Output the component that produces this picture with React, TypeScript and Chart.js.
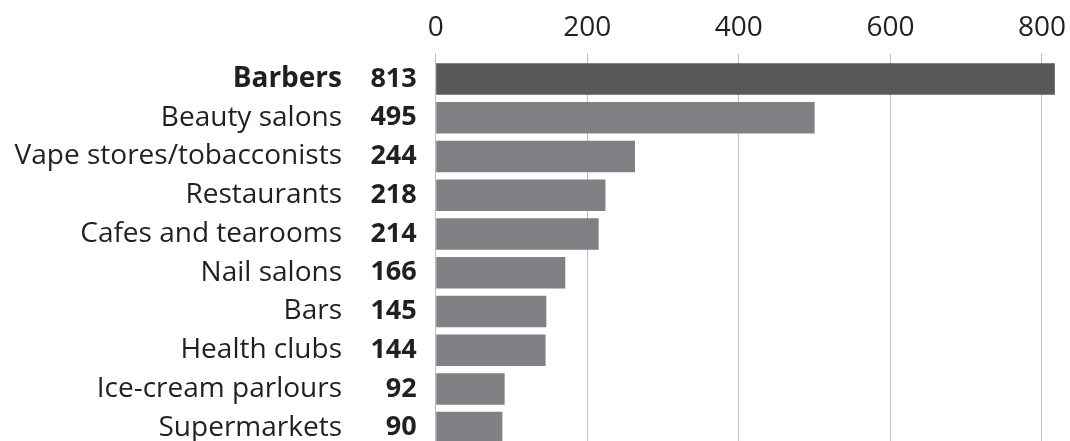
import React, { useEffect, useRef } from "react";
import { Chart, registerables } from "chart.js";

Chart.register(...registerables);

const categories = [
  "Barbers",
  "Beauty salons",
  "Vape stores/tobacconists",
  "Restaurants",
  "Cafes and tearooms",
  "Nail salons",
  "Bars",
  "Health clubs",
  "Ice-cream parlours",
  "Supermarkets",
];
const printedCounts = [813, 495, 244, 218, 214, 166, 145, 144, 92, 90];
const barLengths = [817, 500, 263, 224, 215, 171, 146, 145, 91, 88];
const xTicks = [0, 200, 400, 600, 800];

const FONT = "'Open Sans', 'Noto Sans', sans-serif";
const TEXT = "#231f20";
const DARK = "#58595b";
const GREY = "#808184";
const GRID = "#bcbec0";

const zeroPad = (s: any) => {
  s.paddingTop = 0;
  s.paddingBottom = 0;
  s.paddingLeft = 0;
  s.paddingRight = 0;
};

export default function App() {
  const ref = useRef<HTMLCanvasElement | null>(null);
  useEffect(() => {
    document.body.style.margin = "0";
    document.documentElement.style.overflow = "hidden";
    if (!ref.current) return;
    const countsPlugin = {
      id: "counts",
      afterDatasetsDraw(chart: any) {
        const { ctx, chartArea, scales } = chart;
        ctx.save();
        ctx.font = `bold 27px ${FONT}`;
        ctx.fillStyle = TEXT;
        ctx.textAlign = "right";
        ctx.textBaseline = "middle";
        printedCounts.forEach((v, i) => {
          ctx.fillText(String(v), chartArea.left - 19, scales.y.getPixelForValue(i));
        });
        ctx.restore();
      },
    };
    const chart = new Chart(ref.current, {
      type: "bar",
      data: {
        labels: categories,
        datasets: [
          {
            data: barLengths,
            backgroundColor: categories.map((_, i) => (i === 0 ? DARK : GREY)),
            borderWidth: 0,
            barPercentage: 0.814,
            categoryPercentage: 1,
          },
        ],
      },
      options: {
        indexAxis: "y",
        animation: false,
        responsive: false,
        maintainAspectRatio: false,
        layout: { padding: 0 },
        plugins: { legend: { display: false }, tooltip: { enabled: false } },
        scales: {
          x: {
            position: "top",
            min: 0,
            max: 837,
            afterBuildTicks: (s: any) => {
              s.ticks = xTicks.map((v) => ({ value: v }));
            },
            afterFit: (s: any) => {
              s.height = 59.65;
              zeroPad(s);
            },
            grid: { color: GRID, lineWidth: 1, tickLength: 6, drawTicks: true },
            border: { display: false },
            ticks: {
              padding: 9,
              color: TEXT,
              font: { family: FONT, size: 28 },
            },
          },
          y: {
            grid: { display: false, drawTicks: false },
            border: { display: false },
            afterFit: (s: any) => {
              s.width = 435.7;
              zeroPad(s);
            },
            ticks: {
              padding: 93.7,
              color: TEXT,
              font: (c: any) => ({
                family: FONT,
                size: 28,
                weight: c.index === 0 ? "bold" : "normal",
              }),
            },
          },
        },
      },
      plugins: [countsPlugin],
    });
    return () => chart.destroy();
  }, []);
  return <canvas ref={ref} width={1070} height={447} style={{ display: "block" }} />;
}
